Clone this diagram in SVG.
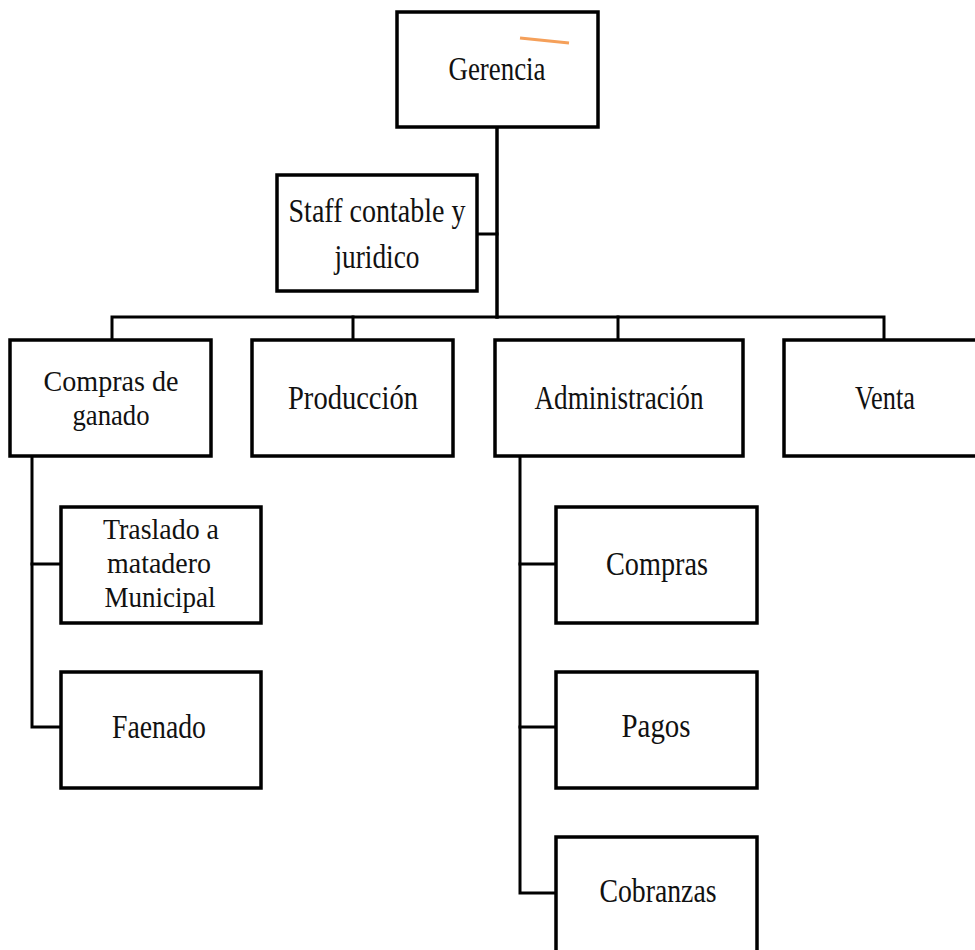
<svg xmlns="http://www.w3.org/2000/svg" width="975" height="950" viewBox="0 0 975 950">
<style>
.box{fill:#fff;stroke:#000;stroke-width:3.5}
.ln{fill:none;stroke:#000;stroke-width:3;stroke-linecap:square}
.t{font-family:'Liberation Serif','DejaVu Serif','Times New Roman',serif;font-size:34px;fill:#111;text-anchor:middle}
.m{font-size:30px}
</style>
<rect width="975" height="950" fill="#fff"/>
<g id="connectors">
<path class="ln" d="M497 127V317" style="stroke-width:3.5"/>
<path class="ln" d="M477 234H497"/>
<path class="ln" d="M112 340V317H884V340"/>
<path class="ln" d="M353 317V340"/>
<path class="ln" d="M618 317V340"/>
<path class="ln" d="M32 456V727H61"/>
<path class="ln" d="M32 564H61"/>
<path class="ln" d="M520 456V893H556"/>
<path class="ln" d="M520 564H556"/>
<path class="ln" d="M520 727H556"/>
</g>
<g id="gerencia">
<rect class="box" x="397" y="12" width="201" height="115"/>
<text class="t" x="497" y="80" textLength="97" lengthAdjust="spacingAndGlyphs">Gerencia</text>
<line x1="520" y1="38" x2="569" y2="43" stroke="#F5A05A" stroke-width="3"/>
</g>
<g id="staff">
<rect class="box" x="277" y="175" width="200" height="116"/>
<text class="t" x="377" y="222" textLength="177" lengthAdjust="spacingAndGlyphs">Staff contable y</text>
<text class="t" x="377" y="268" textLength="85" lengthAdjust="spacingAndGlyphs">juridico</text>
</g>
<g id="compras-ganado">
<rect class="box" x="10" y="340" width="201" height="116"/>
<text class="t m" x="111" y="391" textLength="135" lengthAdjust="spacingAndGlyphs">Compras de</text>
<text class="t m" x="111" y="425" textLength="77" lengthAdjust="spacingAndGlyphs">ganado</text>
</g>
<g id="produccion">
<rect class="box" x="252" y="340" width="201" height="116"/>
<text class="t" x="353" y="409" textLength="130" lengthAdjust="spacingAndGlyphs">Producción</text>
</g>
<g id="administracion">
<rect class="box" x="495" y="340" width="248" height="116"/>
<text class="t" x="619" y="409" textLength="169" lengthAdjust="spacingAndGlyphs">Administración</text>
</g>
<g id="venta">
<rect class="box" x="784" y="340" width="210" height="116"/>
<text class="t" x="885" y="409" textLength="60" lengthAdjust="spacingAndGlyphs">Venta</text>
</g>
<g id="traslado">
<rect class="box" x="61" y="507" width="200" height="116"/>
<text class="t m" x="161" y="539" textLength="116" lengthAdjust="spacingAndGlyphs">Traslado a</text>
<text class="t m" x="159" y="573" textLength="104" lengthAdjust="spacingAndGlyphs">matadero</text>
<text class="t m" x="160" y="607" textLength="111" lengthAdjust="spacingAndGlyphs">Municipal</text>
</g>
<g id="faenado">
<rect class="box" x="61" y="672" width="200" height="116"/>
<text class="t" x="159" y="738" textLength="94" lengthAdjust="spacingAndGlyphs">Faenado</text>
</g>
<g id="compras">
<rect class="box" x="556" y="507" width="201" height="116"/>
<text class="t" x="657" y="575" textLength="102" lengthAdjust="spacingAndGlyphs">Compras</text>
</g>
<g id="pagos">
<rect class="box" x="556" y="672" width="201" height="116"/>
<text class="t" x="656" y="737" textLength="69" lengthAdjust="spacingAndGlyphs">Pagos</text>
</g>
<g id="cobranzas">
<rect class="box" x="556" y="837" width="201" height="130"/>
<text class="t" x="658" y="902" textLength="117" lengthAdjust="spacingAndGlyphs">Cobranzas</text>
</g>
</svg>
